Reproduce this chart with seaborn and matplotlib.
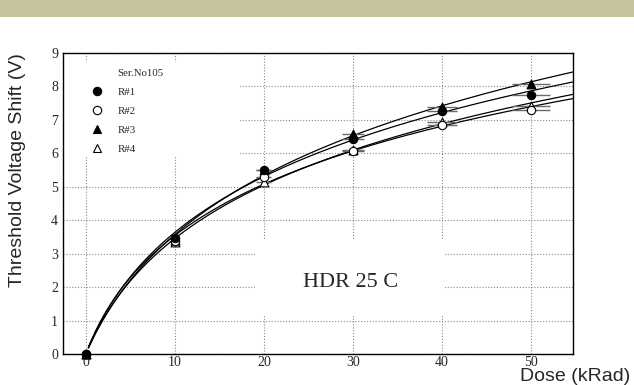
import numpy as np
import matplotlib
matplotlib.use("Agg")
import matplotlib.pyplot as plt
from matplotlib.patches import Rectangle
from matplotlib.lines import Line2D
from matplotlib.ticker import MultipleLocator
import seaborn as sns

# Measured threshold voltage shift per irradiation step
dose = [0, 10, 20, 30, 40, 50]
dose_err = [0, 0.42, 0.84, 1.26, 1.68, 2.1]
shift_r1 = [0, 3.47, 5.49, 6.44, 7.26, 7.75]
shift_r2 = [0, 3.38, 5.30, 6.06, 6.84, 7.31]
shift_r3 = [0, 3.42, 5.50, 6.59, 7.40, 8.07]
shift_r4 = [0, 3.36, 5.15, 6.11, 6.93, 7.43]
series_names = ["R#1", "R#2", "R#3", "R#4"]
legend_title = "Ser.No105"
annotation = "HDR 25 C"
x_label = "Dose (kRad)"
y_label = "Threshold Voltage Shift (V)"
x_ticks = [0, 10, 20, 30, 40, 50]
y_ticks = [0, 1, 2, 3, 4, 5, 6, 7, 8, 9]

series = [shift_r1, shift_r2, shift_r3, shift_r4]
markers = ["o", "o", "^", "^"]
faces = ["black", "white", "black", "white"]

sns.set_style("white")
plt.rcParams["font.family"] = ["Liberation Serif", "DejaVu Serif"]

W, H = 634, 385
fig = plt.figure(figsize=(W / 100, H / 100), dpi=100)
fig.patches.append(Rectangle((0, 1 - 17 / H), 1, 17 / H, transform=fig.transFigure,
                             facecolor="#C6C29C", edgecolor="none", zorder=0))

ax = fig.add_axes([63 / W, 1 - 354 / H, 510 / W, 301 / H])
ax.set_xlim(-2.55, 54.7)
ax.set_ylim(0, 9)
ax.set_xticks(x_ticks)
ax.set_yticks(y_ticks)
ax.xaxis.set_minor_locator(MultipleLocator(2))
ax.yaxis.set_minor_locator(MultipleLocator(0.2))
ax.set_axisbelow(True)
ax.grid(True, which="major", linestyle=(0, (1, 1.6)), color="#8a8a8a", linewidth=0.8)

for sp in ax.spines.values():
    sp.set_color("black")
    sp.set_linewidth(1.0)

ax.tick_params(axis="both", which="both", direction="in", top=False, right=False,
               width=0.8, color="black", labelsize=10)
ax.tick_params(axis="y", which="major", length=9.4, pad=3.6)
ax.tick_params(axis="y", which="minor", length=6)
ax.tick_params(axis="x", which="major", length=6, pad=1.2)
ax.tick_params(axis="x", which="minor", length=3.3)

# White panes under the legend and the run label
ax.add_patch(Rectangle((0, 0.654), 0.347, 0.316, transform=ax.transAxes,
                       facecolor="white", edgecolor="none", zorder=1))
ax.add_patch(Rectangle((0.376, 0.126), 0.373, 0.253, transform=ax.transAxes,
                       facecolor="white", edgecolor="none", zorder=1))

# Fit V = a*ln(1 + b*D) to each channel and draw it across the axis range
x_fit = np.linspace(0.3, 54.7, 400)
b_grid = np.linspace(0.005, 1.5, 3000)
d = np.asarray(dose, float)
for vals in series:
    v = np.asarray(vals, float)
    best = None
    for b in b_grid:
        f = np.log1p(b * d)
        a = (f @ v) / (f @ f)
        sse = np.sum((v - a * f) ** 2)
        if best is None or sse < best[0]:
            best = (sse, a, b)
    _, a, b = best
    sns.lineplot(x=x_fit, y=a * np.log1p(b * x_fit), ax=ax, color="black",
                 linewidth=0.9, estimator=None, sort=False, zorder=2)

# Draw R#4 first so that R#1 ends up on top where points coincide
for vals, mk, fc in list(zip(series, markers, faces))[::-1]:
    ax.errorbar(dose, vals, xerr=dose_err, fmt="none", ecolor="#6a6a6a",
                elinewidth=1.0, capsize=0, zorder=3)
    sns.scatterplot(x=dose, y=vals, ax=ax, marker=mk, s=40 if mk == "^" else 36,
                    facecolor=fc, edgecolor="black", linewidth=0.8, zorder=4,
                    clip_on=False)

handles = [Line2D([], [], linestyle="none")]
for mk, fc in zip(markers, faces):
    handles.append(Line2D([], [], linestyle="none", marker=mk, markersize=6,
                          markerfacecolor=fc, markeredgecolor="black", markeredgewidth=0.8))
ax.legend(handles, [legend_title] + series_names, loc="upper left",
          bbox_to_anchor=(91.8 / W, 1 - 68 / H), bbox_transform=fig.transFigure,
          frameon=False, fontsize=7.8, borderpad=0, borderaxespad=0,
          handlelength=1.0, handletextpad=1.35, labelspacing=0.88)

ax.text(0.563, 0.2226, annotation, transform=ax.transAxes, ha="center",
        va="baseline", fontsize=16, zorder=5)

ax.set_ylabel(y_label, fontfamily="Liberation Sans", fontsize=14, loc="top")
ax.yaxis.set_label_coords(-0.073, 1.0)
ax.set_xlabel(x_label, fontfamily="Liberation Sans", fontsize=14, loc="right")
ax.xaxis.set_label_coords((630 - 63) / 510, -0.0475)

fig.savefig("out.png", dpi=100)
